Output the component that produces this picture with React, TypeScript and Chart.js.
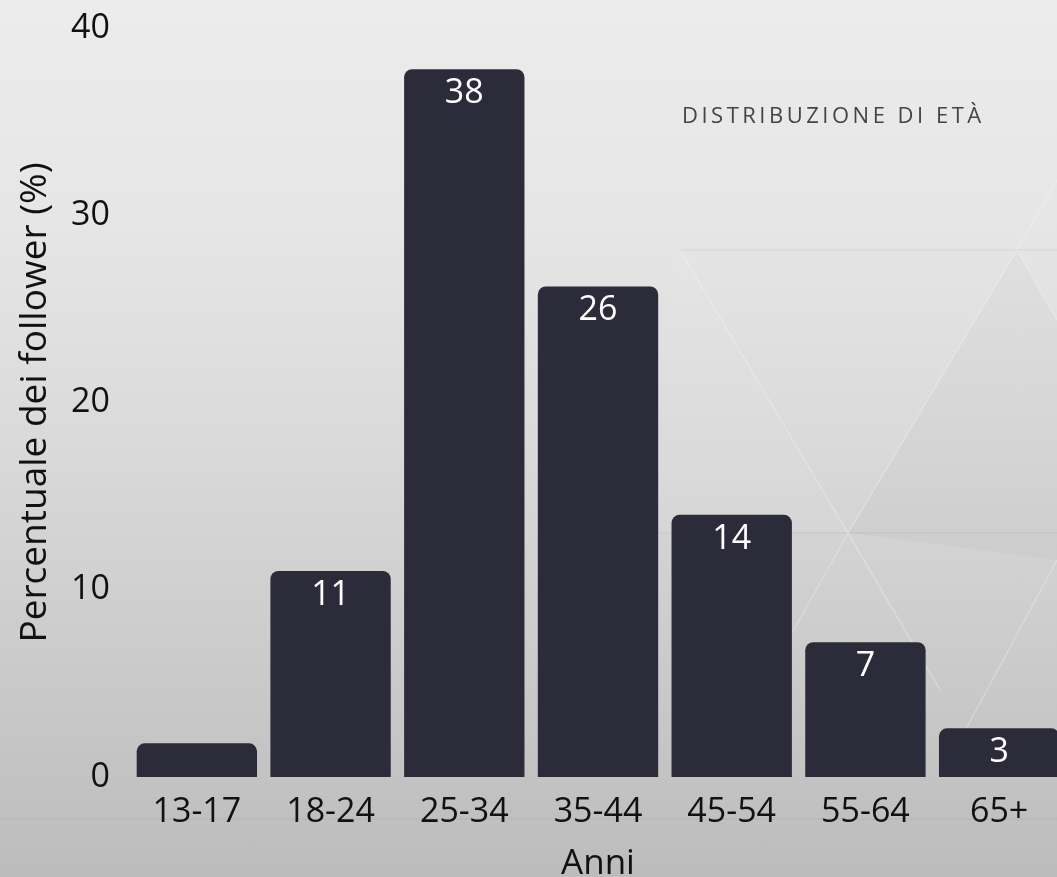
import React, { useEffect, useRef } from "react";
import { Chart, registerables } from "chart.js";

Chart.register(...registerables);

const CATEGORIES = ["13-17", "18-24", "25-34", "35-44", "45-54", "55-64", "65+"];
const FOLLOWER_PCT = [1.8, 11, 37.8, 26.2, 14, 7.2, 2.6];
const Y_MIN = 0;
const Y_MAX = 40;
const Y_STEP = 10;
const TITLE = "DISTRIBUZIONE DI ETÀ";
const X_TITLE = "Anni";
const Y_TITLE = "Percentuale dei follower (%)";
const LABEL_MIN_VALUE = 2;

const FONT = "'Open Sans', 'DejaVu Sans', sans-serif";
const BAR_COLOR = "#2c2b3a";

const valueLabels = {
  id: "valueLabels",
  afterDatasetsDraw(chart: any) {
    const ctx = chart.ctx;
    const meta = chart.getDatasetMeta(0);
    const data = chart.data.datasets[0].data as number[];
    ctx.save();
    ctx.fillStyle = "#ffffff";
    ctx.font = `34px ${FONT}`;
    ctx.textAlign = "center";
    ctx.textBaseline = "middle";
    meta.data.forEach((bar: any, i: number) => {
      const v = data[i];
      if (v < LABEL_MIN_VALUE) return;
      ctx.fillText(String(Math.round(v)), bar.x, bar.y + 24);
    });
    ctx.restore();
  },
};

export default function App() {
  const ref = useRef<HTMLCanvasElement | null>(null);

  useEffect(() => {
    if (!ref.current) return;
    const chart = new Chart(ref.current, {
      type: "bar",
      data: {
        labels: CATEGORIES,
        datasets: [
          {
            data: FOLLOWER_PCT,
            backgroundColor: BAR_COLOR,
            borderRadius: 8,
            barPercentage: 0.9,
            categoryPercentage: 1.0,
          },
        ],
      },
      options: {
        responsive: false,
        animation: false,
        devicePixelRatio: 1,
        layout: { padding: { top: 28, right: 4, left: 0, bottom: 0 } },
        plugins: {
          legend: { display: false },
          tooltip: { enabled: false },
        },
        scales: {
          x: {
            grid: { display: false, drawTicks: false },
            border: { display: false },
            ticks: {
              color: "#111111",
              font: { family: FONT, size: 34 },
              padding: 15,
              maxRotation: 0,
            },
            title: {
              display: true,
              text: X_TITLE,
              color: "#111111",
              font: { family: FONT, size: 35, lineHeight: 0.72 },
              padding: { top: 0, bottom: 0 },
            },
            afterFit(scale: any) {
              scale.height = 100;
              scale.paddingLeft = 0;
              scale.paddingRight = 0;
            },
          },
          y: {
            min: Y_MIN,
            max: Y_MAX,
            grid: { display: false, drawTicks: false },
            border: { display: false },
            ticks: {
              stepSize: Y_STEP,
              color: "#111111",
              font: { family: FONT, size: 34 },
              padding: 20,
            },
            title: {
              display: true,
              text: Y_TITLE,
              color: "#111111",
              font: { family: FONT, size: 37, lineHeight: 1.2 },
              padding: { top: 13, bottom: 0 },
            },
            afterFit(scale: any) {
              scale.width = 130;
              scale.paddingTop = 0;
              scale.paddingBottom = 0;
            },
          },
        },
      },
      plugins: [valueLabels],
    });
    return () => chart.destroy();
  }, []);

  return (
    <div
      style={{
        position: "fixed",
        left: 0,
        top: 0,
        width: 1057,
        height: 877,
        overflow: "hidden",
        background:
          "linear-gradient(to bottom, #ececec 0%, #e6e6e6 25%, #dadada 50%, #cbcbcb 75%, #bcbcbc 100%)",
      }}
    >
      <svg
        width={1057}
        height={877}
        style={{ position: "absolute", left: 0, top: 0 }}
      >
        <polygon points="848,533 1017,250 1057,320 1057,560" fill="rgba(0,0,0,0.02)" />
        <polygon points="680,250 848,533 600,533" fill="rgba(255,255,255,0.05)" />
        <g stroke="rgba(255,255,255,0.25)" strokeWidth={1.5} fill="none">
          <line x1={680} y1={250} x2={848} y2={533} />
          <line x1={1017} y1={250} x2={848} y2={533} />
          <line x1={848} y1={533} x2={760} y2={690} />
          <line x1={848} y1={533} x2={940} y2={690} />
          <line x1={1017} y1={250} x2={1057} y2={180} />
          <line x1={1017} y1={250} x2={1057} y2={320} />
          <line x1={1057} y1={560} x2={960} y2={740} />
        </g>
        <g stroke="rgba(0,0,0,0.03)" strokeWidth={2} fill="none">
          <line x1={680} y1={250} x2={1057} y2={250} />
          <line x1={600} y1={533} x2={1057} y2={533} />
          <line x1={0} y1={819} x2={1057} y2={819} />
        </g>
      </svg>
      <canvas
        ref={ref}
        width={1070}
        height={877}
        style={{ position: "absolute", left: 0, top: 0, width: 1070, height: 877 }}
      />
      <div
        style={{
          position: "absolute",
          left: 682,
          top: 100,
          fontFamily: FONT,
          fontSize: 22,
          letterSpacing: "3.5px",
          color: "#444444",
          lineHeight: "28px",
          whiteSpace: "nowrap",
        }}
      >
        {TITLE}
      </div>
    </div>
  );
}
